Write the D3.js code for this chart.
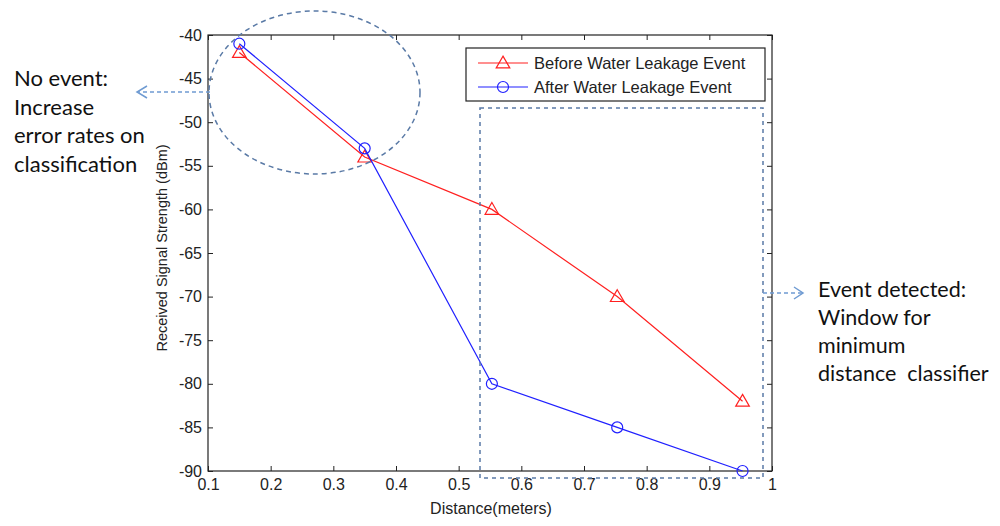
<!DOCTYPE html>
<html><head><meta charset="utf-8">
<script src="https://cdn.jsdelivr.net/npm/d3@7"></script>
<style>body{margin:0;background:#fff}svg{display:block}</style>
</head><body>
<svg id="c" width="1000" height="526"></svg>
<script>
const distances = [0.15, 0.35, 0.553, 0.753, 0.953];
const beforeValues = [-42, -54, -60, -70, -82];
const afterValues = [-41, -53, -80, -85, -90];
const xTicks = [0.1,0.2,0.3,0.4,0.5,0.6,0.7,0.8,0.9,1];
const yTicks = [-40,-45,-50,-55,-60,-65,-70,-75,-80,-85,-90];
const seriesNames = ["Before Water Leakage Event","After Water Leakage Event"];
const leftNote = ["No event:","Increase","error rates on","classification"];
const rightNote = ["Event detected:","Window for","minimum","distance  classifier"];

const svg = d3.select("#c");
const L=208, R=772, T=35, B=471;
const x = d3.scaleLinear().domain([0.1,1]).range([L,R]);
const y = d3.scaleLinear().domain([-90,-40]).range([B,T]);
const font = "'Liberation Sans', Arial, sans-serif";

svg.append("rect").attr("x",L).attr("y",T).attr("width",R-L).attr("height",B-T)
  .attr("fill","none").attr("stroke","#222").attr("stroke-width",1.2);

const fmt = d => d===1 ? "1" : d3.format(".1f")(d);
const yfmt = d => String(d).replace("\u2212","-");
const xb = svg.append("g").attr("transform",`translate(0,${B})`)
  .call(d3.axisBottom(x).tickValues(xTicks).tickSize(-5).tickPadding(8).tickFormat(fmt));
const xt = svg.append("g").attr("transform",`translate(0,${T})`)
  .call(d3.axisTop(x).tickValues(xTicks).tickSize(-5).tickFormat(""));
const yl = svg.append("g").attr("transform",`translate(${L},0)`)
  .call(d3.axisLeft(y).tickValues(yTicks).tickSize(-5).tickPadding(6).tickFormat(yfmt));
const yr = svg.append("g").attr("transform",`translate(${R},0)`)
  .call(d3.axisRight(y).tickValues(yTicks).tickSize(-5).tickFormat(""));
[xb,xt,yl,yr].forEach(g=>{
  g.select(".domain").remove();
  g.selectAll(".tick line").attr("stroke","#222");
  g.selectAll("text").attr("font-family",font).attr("font-size",16).attr("fill","#222");
});

svg.append("text").attr("x",491).attr("y",514).attr("text-anchor","middle")
  .attr("font-family",font).attr("font-size",16).attr("fill","#222").text("Distance(meters)");
svg.append("text").attr("transform","translate(167,248) rotate(-90)").attr("text-anchor","middle")
  .attr("font-family",font).attr("font-size",14.5).attr("fill","#222").text("Received Signal Strength (dBm)");

const line = d3.line().x((d,i)=>x(distances[i])).y(d=>y(d));
const tri = d3.symbol().type(d3.symbolTriangle).size(80);

function drawSeries(vals,color,marker){
  svg.append("path").attr("d",line(vals)).attr("fill","none").attr("stroke",color).attr("stroke-width",1.2);
  vals.forEach((v,i)=>{
    if(marker==="tri"){
      svg.append("path").attr("d",tri()).attr("transform",`translate(${x(distances[i])},${y(v)+1})`)
        .attr("fill","none").attr("stroke",color).attr("stroke-width",1.2);
    } else {
      svg.append("circle").attr("cx",x(distances[i])).attr("cy",y(v)).attr("r",5.5)
        .attr("fill","none").attr("stroke",color).attr("stroke-width",1.2);
    }
  });
}
drawSeries(beforeValues,"#ff2020","tri");
drawSeries(afterValues,"#2020ff","circ");

const lg = svg.append("g");
lg.append("rect").attr("x",466).attr("y",48).attr("width",299).attr("height",53)
  .attr("fill","#fff").attr("stroke","#222").attr("stroke-width",1.2);
const colors=["#ff2020","#2020ff"];
seriesNames.forEach((n,i)=>{
  const yy = 63+i*24;
  lg.append("line").attr("x1",478).attr("x2",528).attr("y1",yy).attr("y2",yy).attr("stroke",colors[i]).attr("stroke-width",1.2);
  if(i===0) lg.append("path").attr("d",tri()).attr("transform",`translate(503,${yy+1})`).attr("fill","none").attr("stroke",colors[i]).attr("stroke-width",1.2);
  else lg.append("circle").attr("cx",503).attr("cy",yy).attr("r",5.5).attr("fill","none").attr("stroke",colors[i]).attr("stroke-width",1.2);
  lg.append("text").attr("x",534).attr("y",yy+6).attr("font-family",font).attr("font-size",16.5).attr("fill","#222").text(n);
});

const dash="#5a7aa6";
svg.append("ellipse").attr("cx",314.5).attr("cy",92.5).attr("rx",105.5).attr("ry",81.5)
  .attr("fill","none").attr("stroke",dash).attr("stroke-width",1.5).attr("stroke-dasharray","5,4");
svg.append("rect").attr("x",480).attr("y",108).attr("width",283).attr("height",370)
  .attr("fill","none").attr("stroke",dash).attr("stroke-width",1.5).attr("stroke-dasharray","4,4");
const arr="#6f9bd2";
svg.append("line").attr("x1",210).attr("x2",138).attr("y1",92).attr("y2",92).attr("stroke",arr).attr("stroke-width",1.5).attr("stroke-dasharray","4,3");
svg.append("path").attr("d","M147,86 L137,92 L147,98").attr("fill","none").attr("stroke",arr).attr("stroke-width",1.5);
svg.append("line").attr("x1",763).attr("x2",802).attr("y1",293).attr("y2",293).attr("stroke",arr).attr("stroke-width",1.5).attr("stroke-dasharray","4,3");
svg.append("path").attr("d","M794,287 L803,293 L794,299").attr("fill","none").attr("stroke",arr).attr("stroke-width",1.5);

const nfont="Lato, 'Open Sans', sans-serif";
leftNote.forEach((t,i)=>svg.append("text").attr("x",14).attr("y",86+i*28.7)
  .attr("font-family",nfont).attr("font-size",22).attr("fill","#111").text(t));
rightNote.forEach((t,i)=>svg.append("text").attr("x",818).attr("y",297+i*28)
  .attr("font-family",nfont).attr("font-size",21.5).attr("fill","#111").style("white-space","pre").text(t));
</script>
</body></html>
